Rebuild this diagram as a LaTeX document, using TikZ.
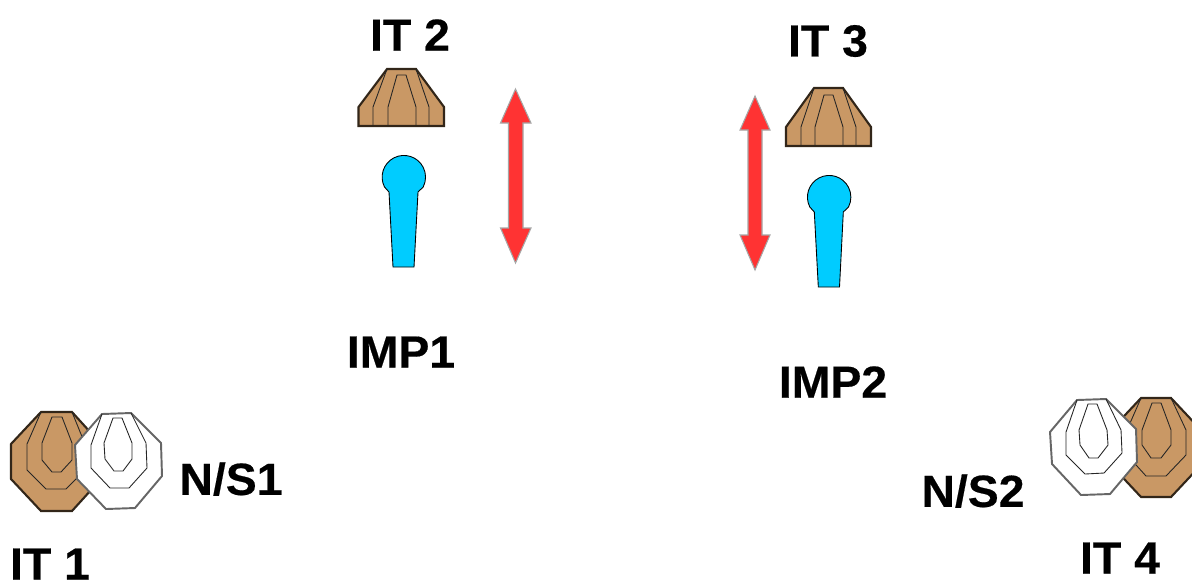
\documentclass[tikz,border=0pt]{standalone}
\usepackage{xcolor}
\usepackage{fontspec}
\setmainfont[FakeStretch=1.03,BoldFeatures={FakeBold=0.4}]{Liberation Sans}
\definecolor{plate}{HTML}{C99865}
\definecolor{pointer}{HTML}{00CCFF}
\definecolor{updown}{HTML}{FF3333}
\tikzset{
    label text/.style = {font = \fontsize{12.8pt}{14pt}\selectfont\bfseries, inner sep = 0pt},
    brown outer/.style = {draw = black!75!plate, line width = 0.6pt, fill = plate},
    white outer/.style = {draw = black!60, line width = 0.55pt, fill = white},
    inner line/.style = {draw = black!85, line width = 0.25pt},
    pointer shape/.style = {draw = black, line width = 0.25pt, fill = pointer},
    updown shape/.style = {draw = black!35, line width = 0.3pt, fill = updown}
}
\begin{document}
\begin{tikzpicture}[x = 0.01cm, y = -0.01cm]
        \clip (0, 0) rectangle (1192, 581);

        % left targets
        \draw[brown outer] (41, 412) -- (72, 412) -- (101, 444) -- (101, 479) -- (72, 511)
            -- (41, 511) -- (11, 479) -- (11, 444) -- cycle;
        \draw[inner line] (41, 412) -- (27, 444) -- (27, 470) -- (46, 489) -- (66, 489)
            -- (85, 470) -- (85, 444) -- (72, 412);
        \draw[inner line] (52, 417) -- (62, 417) -- (72, 443) -- (72, 460) -- (61, 472)
            -- (52, 472) -- (42, 460) -- (42, 443) -- cycle;
        \draw[white outer] (102, 414) -- (131, 413) -- (161, 443) -- (162, 476) -- (135, 508)
            -- (106, 509) -- (77, 479) -- (75, 445) -- cycle;
        \draw[inner line] (102, 414) -- (91, 445) -- (91, 468) -- (110, 488) -- (129, 488)
            -- (147, 468) -- (146, 443) -- (131, 413);
        \draw[inner line] (113, 418) -- (122, 418) -- (132, 443) -- (132, 459) -- (123, 471)
            -- (114, 471) -- (105, 459) -- (104, 443) -- cycle;

        % right targets
        \draw[brown outer] (1141, 398) -- (1171, 398) -- (1201, 430) -- (1201, 465) -- (1171, 497)
            -- (1141, 497) -- (1111, 465) -- (1111, 430) -- cycle;
        \draw[inner line] (1141, 398) -- (1127, 430) -- (1127, 455) -- (1146, 476) -- (1166, 476)
            -- (1186, 455) -- (1186, 430) -- (1171, 398);
        \draw[inner line] (1152, 403) -- (1161, 403) -- (1171, 430) -- (1171, 445) -- (1161, 458)
            -- (1151, 458) -- (1142, 445) -- (1142, 430) -- cycle;
        \draw[white outer] (1077, 400) -- (1106, 399) -- (1136, 429) -- (1137, 462) -- (1110, 494)
            -- (1081, 495) -- (1052, 464) -- (1050, 432) -- cycle;
        \draw[inner line] (1077, 400) -- (1066, 432) -- (1066, 455) -- (1085, 474) -- (1104, 473)
            -- (1122, 453) -- (1121, 430) -- (1106, 399);
        \draw[inner line] (1088, 404) -- (1097, 404) -- (1107, 430) -- (1108, 445) -- (1098, 458)
            -- (1089, 458) -- (1080, 445) -- (1079, 430) -- cycle;

        % top plates
        \draw[brown outer] (358.5, 107) -- (387, 69) -- (416, 69) -- (444, 107) -- (444, 126)
            -- (358.5, 126) -- cycle;
        \draw[inner line] (387, 69) -- (373, 107) -- (373, 126);
        \draw[inner line] (416, 69) -- (429, 107) -- (429, 126);
        \draw[inner line] (388, 126) -- (388, 107) -- (397, 75) -- (406, 75) -- (416, 107) -- (416, 126);

        \draw[brown outer] (786, 127) -- (814, 88) -- (843, 88) -- (871, 127) -- (871, 146)
            -- (786, 146) -- cycle;
        \draw[inner line] (814, 88) -- (801, 127) -- (801, 146);
        \draw[inner line] (843, 88) -- (856, 127) -- (856, 146);
        \draw[inner line] (815, 146) -- (815, 127) -- (824, 95) -- (833, 95) -- (843, 127) -- (843, 146);

        % pointers
        \draw[pointer shape] (389, 192) -- (384.5, 187)
            arc [start angle = 207, end angle = -27, radius = 0.217cm]
            -- (418, 192) -- (414, 267) -- (393, 267) -- cycle;
        \draw[pointer shape] (814.3, 212) -- (809.8, 207)
            arc [start angle = 207, end angle = -27, radius = 0.217cm]
            -- (843.3, 212) -- (839.5, 287) -- (818.3, 287) -- cycle;

        % arrows
        \draw[updown shape] (515.5, 89) -- (531, 123) -- (523, 123) -- (523, 228) -- (531, 228)
            -- (515.5, 263) -- (500.5, 228) -- (508.5, 228) -- (508.5, 123) -- (500.5, 123) -- cycle;
        \draw[updown shape] (755, 96) -- (770, 130) -- (762, 130) -- (762, 235) -- (770, 235)
            -- (755, 270) -- (740, 235) -- (748, 235) -- (748, 130) -- (740, 130) -- cycle;

        \node[label text] (it2) at (410, 35) {IT 2};
        \node[label text] (it3) at (828, 41) {IT 3};
        \node[label text] (imp1) at (401, 352) {IMP1};
        \node[label text] (imp2) at (833, 382) {IMP2};
        \node[label text] (ns1) at (231, 479) {N/S1};
        \node[label text] (ns2) at (973, 491) {N/S2};
        \node[label text] (it1) at (50, 564) {IT 1};
        \node[label text] (it4) at (1120, 558) {IT 4};
\end{tikzpicture}
\end{document}
